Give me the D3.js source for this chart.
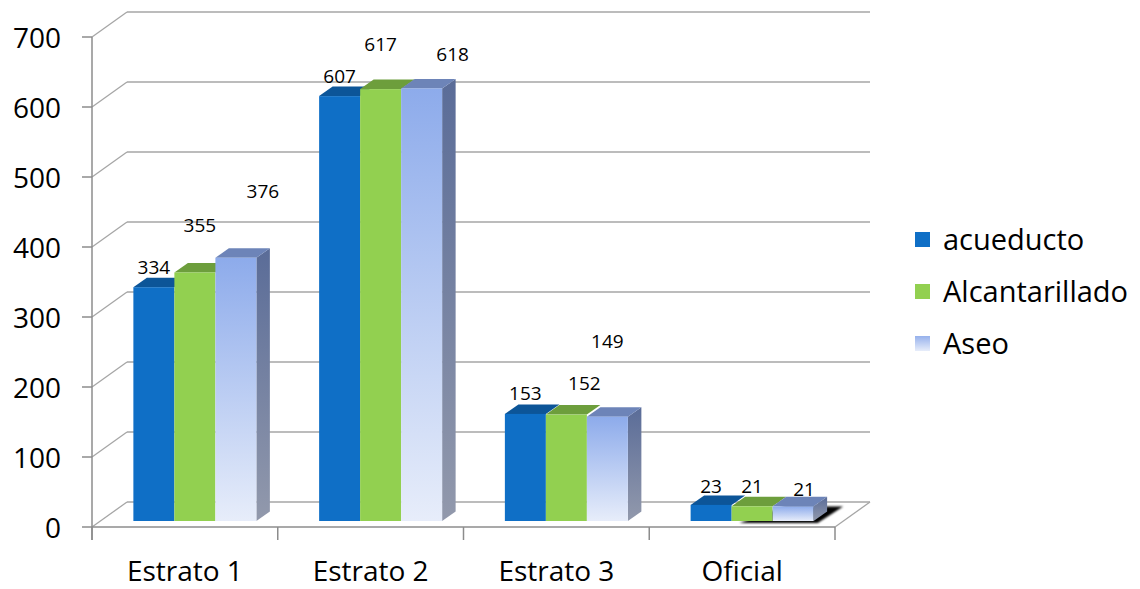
<!DOCTYPE html>
<html><head><meta charset="utf-8">
<script src="https://cdn.jsdelivr.net/npm/d3@7/dist/d3.min.js"></script>
<style>html,body{margin:0;padding:0;background:#fff}svg{display:block}</style>
</head><body><svg id="c" width="1140" height="589"></svg>
<script>
const categories = ["Estrato 1", "Estrato 2", "Estrato 3", "Oficial"];
const series = ["acueducto", "Alcantarillado", "Aseo"];
const acueducto = [334, 607, 153, 23];
const alcantarillado = [355, 617, 152, 21];
const aseo = [376, 618, 149, 21];
const yTicks = [0, 100, 200, 300, 400, 500, 600, 700];
const values = [acueducto, alcantarillado, aseo];

// layout (not data): label nudges replicating the reference label placement
const labelNudge = [
  [[0,-20],[0,-20],[0,-21],[0,-19]],
  [[5,-47],[0,-45],[18,-31],[0,-20]],
  [[27,-67],[31,-34],[0,-76],[11,-17]]
];

(function () {
const svg = d3.select("#c");
const FONT = "Open Sans, Lato, sans-serif";
const pLeft = 92, pRight = 835, pBottom = 527, pTop = 37;
const wallDx = 35, wallDy = -25;     // back wall depth
const barDx = 10, barDy = -6;        // bar front-face offset into depth
const topDx = 13.5, topDy = -9.5;    // bar depth

const y = d3.scaleLinear().domain([0, 700]).range([pBottom, pTop]);
const x = d3.scaleBand().domain(categories).range([pLeft, pRight]);
const barW = 41;
const xs = d3.scaleBand().domain(series).range([0, barW * 3]);

const defs = svg.append("defs");
const gFront = defs.append("linearGradient").attr("id","aseoFront").attr("x1",0).attr("y1",0).attr("x2",0).attr("y2",1);
gFront.append("stop").attr("offset","0%").attr("stop-color","#8DABEB");
gFront.append("stop").attr("offset","100%").attr("stop-color","#E7EDFA");
const gSide = defs.append("linearGradient").attr("id","aseoSide").attr("x1",0).attr("y1",0).attr("x2",0).attr("y2",1);
gSide.append("stop").attr("offset","0%").attr("stop-color","#5A6C98");
gSide.append("stop").attr("offset","100%").attr("stop-color","#9299AC");
const gLeg = defs.append("linearGradient").attr("id","aseoLeg").attr("x1",0).attr("y1",0).attr("x2",0).attr("y2",1);
gLeg.append("stop").attr("offset","0%").attr("stop-color","#96B1EC");
gLeg.append("stop").attr("offset","100%").attr("stop-color","#E7EDFA");
const blur = defs.append("filter").attr("id","blur").attr("x","-50%").attr("y","-50%").attr("width","200%").attr("height","200%");
blur.append("feGaussianBlur").attr("stdDeviation", 1.3);

const gridColor = "#A6A6A6";
const grid = svg.append("g").attr("stroke", gridColor).attr("stroke-width", 1.3).attr("fill","none");
yTicks.forEach(t => {
  const yy = y(t);
  grid.append("line").attr("x1", pLeft + wallDx).attr("x2", pRight + wallDx)
    .attr("y1", yy + wallDy).attr("y2", yy + wallDy);
  grid.append("line").attr("x1", pLeft).attr("y1", yy).attr("x2", pLeft + wallDx).attr("y2", yy + wallDy);
});
grid.append("line").attr("x1", pRight).attr("y1", y(0)).attr("x2", pRight + wallDx).attr("y2", y(0) + wallDy);

const ax = svg.append("g").attr("stroke", "#8C8C8C").attr("stroke-width", 1.5);
ax.append("line").attr("x1", pLeft).attr("x2", pLeft).attr("y1", y(700)).attr("y2", y(0) + 13);
ax.append("line").attr("x1", pLeft).attr("x2", pRight).attr("y1", y(0)).attr("y2", y(0));
yTicks.forEach(t => {
  ax.append("line").attr("x1", pLeft - 10).attr("x2", pLeft).attr("y1", y(t)).attr("y2", y(t));
});
categories.concat(["__end"]).forEach((c, i) => {
  const xx = i < categories.length ? x(c) : pRight;
  ax.append("line").attr("x1", xx).attr("x2", xx).attr("y1", y(0)).attr("y2", y(0) + 13);
});

svg.append("g").selectAll("text").data(yTicks).join("text")
  .attr("x", 61).attr("y", d => y(d) + 1).attr("dy", "0.36em")
  .attr("text-anchor", "end").attr("font-family", FONT).attr("font-size", 28)
  .attr("fill", "#000").text(d => d);

svg.append("g").selectAll("text").data(categories).join("text")
  .attr("x", d => x(d) + x.bandwidth() / 2).attr("y", 581)
  .attr("text-anchor", "middle").attr("font-family", FONT).attr("font-size", 28)
  .attr("fill", "#000").text(d => d);

const groupOff = (x.bandwidth() - barW * 3) / 2 + barDx;
const colorsFront = ["#0F6FC6", "#92D050", "url(#aseoFront)"];
const colorsTop = ["#0C5598", "#6D9E3C", "#6D84B8"];

{
  const c = "Oficial";
  const x0 = x(c) + groupOff + xs("Alcantarillado") + 8;
  const x1 = x(c) + groupOff + xs("Aseo") + barW;
  const yb = y(0) + barDy;
  svg.append("path")
    .attr("d", `M${x0},${yb+2} L${x1 + 4},${yb+2} L${x1 + topDx + 16},${yb + topDy - 5} L${x0 + 45},${yb + topDy - 5} Z`)
    .attr("fill", "#000").attr("filter", "url(#blur)");
}

const bars = svg.append("g");
categories.forEach((c, ci) => {
  series.forEach((s, si) => {
    const v = values[si][ci];
    const bx = x(c) + groupOff + xs(s);
    const by = y(v) + barDy;
    const bb = y(0) + barDy;
    const g = bars.append("g");
    if (si === 2) {
      g.append("path")
        .attr("d", `M${bx + barW},${by} L${bx + barW + topDx},${by + topDy} L${bx + barW + topDx},${bb + topDy} L${bx + barW},${bb} Z`)
        .attr("fill", "url(#aseoSide)");
    }
    g.append("path")
      .attr("d", `M${bx},${by} L${bx + topDx},${by + topDy} L${bx + barW + topDx},${by + topDy} L${bx + barW},${by} Z`)
      .attr("fill", colorsTop[si]);
    g.append("rect").attr("x", bx).attr("y", by).attr("width", barW).attr("height", bb - by)
      .attr("fill", colorsFront[si]);
  });
});

const lab = svg.append("g").attr("font-family", FONT).attr("font-size", 19).attr("fill", "#000").attr("text-anchor", "middle");
categories.forEach((c, ci) => {
  series.forEach((s, si) => {
    const v = values[si][ci];
    const cx = x(c) + groupOff + xs(s) + barW / 2;
    const n = labelNudge[si][ci];
    lab.append("text").attr("x", cx + n[0]).attr("y", y(v) + barDy + n[1]).attr("dy", "0.36em").text(v);
  });
});

const leg = svg.append("g").attr("transform", "translate(915,240)");
const legFill = ["#0F6FC6", "#92D050", "url(#aseoLeg)"];
series.forEach((s, i) => {
  const g = leg.append("g").attr("transform", `translate(0,${i * 52})`);
  g.append("rect").attr("x", 0).attr("y", -8).attr("width", 15).attr("height", 15).attr("fill", legFill[i]);
  g.append("text").attr("x", 28).attr("y", 0).attr("dy", "0.36em")
    .attr("font-family", FONT).attr("font-size", 29).attr("fill", "#000").text(s);
});
})();
</script></body></html>
